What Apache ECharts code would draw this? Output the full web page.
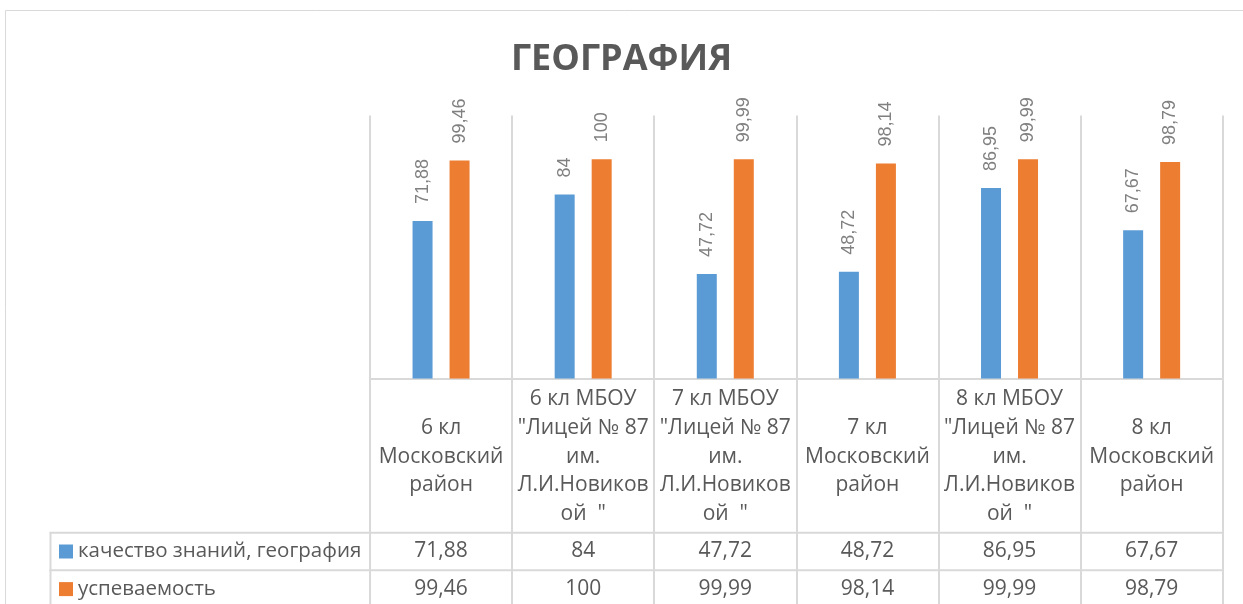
<!DOCTYPE html>
<html>
<head>
<meta charset="utf-8">
<script src="https://cdn.jsdelivr.net/npm/echarts@6/dist/echarts.min.js"></script>
<style>
  html, body { margin: 0; padding: 0; background: #ffffff; }
  #chart { width: 1243px; height: 604px; }
</style>
</head>
<body>
<div id="chart"></div>
<script>
// ---- data ----
const titleText = 'ГЕОГРАФИЯ';
const categories = [
  '6 кл\nМосковский\nрайон',
  '6 кл МБОУ\n"Лицей № 87\nим.\nЛ.И.Новиков\nой  "',
  '7 кл МБОУ\n"Лицей № 87\nим.\nЛ.И.Новиков\nой  "',
  '7 кл\nМосковский\nрайон',
  '8 кл МБОУ\n"Лицей № 87\nим.\nЛ.И.Новиков\nой  "',
  '8 кл\nМосковский\nрайон'
];
const seriesNames = ['качество знаний, география', 'успеваемость'];
const quality = [71.88, 84, 47.72, 48.72, 86.95, 67.67];
const success = [99.46, 100, 99.99, 98.14, 99.99, 98.79];
const yMin = 0;
const yMax = 120;

// ---- layout ----
const W = 1243, H = 604;
const GRID_LEFT = 370, GRID_RIGHT_X = 1222.7, GRID_TOP = 115.5, BASE_Y = 378.5;
const ROW1_Y = 532.7, ROW2_Y = 570.3, ROW_H = 37.6;
const TABLE_LEFT = 50.5;
const LINE = '#d9d9d9';
const TXT = '#595959';
const TABLE_FONT = 'Open Sans';
const TABLE_SIZE = 21;
const LEGEND_SIZE = 20.5;

const fmt = v => String(v).replace('.', ',');

const chart = echarts.init(document.getElementById('chart'), null, { renderer: 'canvas' });

function valueAxis(values, offsetY) {
  return {
    type: 'category',
    data: categories,
    position: 'bottom',
    gridIndex: 0,
    boundaryGap: true,
    axisLine: { show: false },
    axisTick: { show: false },
    splitLine: { show: false },
    axisLabel: {
      interval: 0,
      margin: offsetY + ROW_H / 2,
      verticalAlign: 'middle',
      fontFamily: TABLE_FONT,
      fontSize: TABLE_SIZE,
      color: TXT,
      formatter: (val, idx) => fmt(values[idx])
    }
  };
}

function legendRow(name, rowTop) {
  return {
    orient: 'horizontal',
    left: 59,
    top: rowTop + ROW_H / 2 - 11,
    padding: 0,
    itemWidth: 14,
    itemHeight: 14,
    icon: 'rect',
    selectedMode: false,
    textStyle: { fontFamily: TABLE_FONT, fontSize: LEGEND_SIZE, color: TXT, lineHeight: 22 },
    data: [name]
  };
}

const option = {
  backgroundColor: '#ffffff',
  animation: false,
  title: {
    text: titleText,
    left: 'center',
    top: 37,
    textStyle: {
      fontFamily: 'Open Sans',
      fontWeight: 'bold',
      fontSize: 36,
      color: TXT
    }
  },
  legend: [
    legendRow(seriesNames[0], ROW1_Y),
    legendRow(seriesNames[1], ROW2_Y)
  ],
  grid: {
    left: GRID_LEFT,
    right: W - GRID_RIGHT_X,
    top: GRID_TOP,
    bottom: H - BASE_Y
  },
  xAxis: [
    {
      type: 'category',
      data: categories,
      position: 'bottom',
      boundaryGap: true,
      axisLine: { show: true, lineStyle: { color: LINE, width: 2 } },
      axisTick: { show: true, length: H - BASE_Y + 10, lineStyle: { color: LINE, width: 2 } },
      splitLine: { show: true, lineStyle: { color: LINE, width: 2 } },
      axisLabel: {
        interval: 0,
        margin: (ROW1_Y - BASE_Y) / 2 + 1,
        verticalAlign: 'middle',
        align: 'center',
        fontFamily: TABLE_FONT,
        fontSize: TABLE_SIZE,
        lineHeight: 28.6,
        color: TXT
      }
    },
    valueAxis(quality, ROW1_Y - BASE_Y),
    valueAxis(success, ROW2_Y - BASE_Y)
  ],
  yAxis: {
    type: 'value',
    min: yMin,
    max: yMax,
    show: false,
    splitLine: { show: false }
  },
  series: [
    {
      name: seriesNames[0],
      type: 'bar',
      xAxisIndex: 0,
      data: quality,
      barWidth: 20,
      barGap: '85%',
      itemStyle: { color: '#5b9bd5' },
      label: {
        show: true,
        position: 'top',
        rotate: 90,
        align: 'left',
        verticalAlign: 'middle',
        distance: 17,
        fontFamily: 'Liberation Sans',
        fontSize: 18,
        color: '#808080',
        formatter: p => fmt(p.value)
      }
    },
    {
      name: seriesNames[1],
      type: 'bar',
      xAxisIndex: 0,
      data: success,
      barWidth: 20,
      barGap: '85%',
      itemStyle: { color: '#ed7d31' },
      label: {
        show: true,
        position: 'top',
        rotate: 90,
        align: 'left',
        verticalAlign: 'middle',
        distance: 17,
        fontFamily: 'Liberation Sans',
        fontSize: 18,
        color: '#808080',
        formatter: p => fmt(p.value)
      }
    }
  ],
  graphic: [
    { type: 'rect', silent: true, shape: { x: 5.5, y: 10.5, width: 1400, height: 800 },
      style: { fill: 'none', stroke: LINE, lineWidth: 1 } },
    { type: 'line', silent: true, shape: { x1: TABLE_LEFT - 1, y1: ROW1_Y, x2: GRID_RIGHT_X + 1, y2: ROW1_Y },
      style: { stroke: LINE, lineWidth: 2 } },
    { type: 'line', silent: true, shape: { x1: TABLE_LEFT - 1, y1: ROW2_Y, x2: GRID_RIGHT_X + 1, y2: ROW2_Y },
      style: { stroke: LINE, lineWidth: 2 } },
    { type: 'line', silent: true, shape: { x1: TABLE_LEFT, y1: ROW1_Y, x2: TABLE_LEFT, y2: H + 10 },
      style: { stroke: LINE, lineWidth: 2 } }
  ]
};

chart.setOption(option);
</script>
</body>
</html>
